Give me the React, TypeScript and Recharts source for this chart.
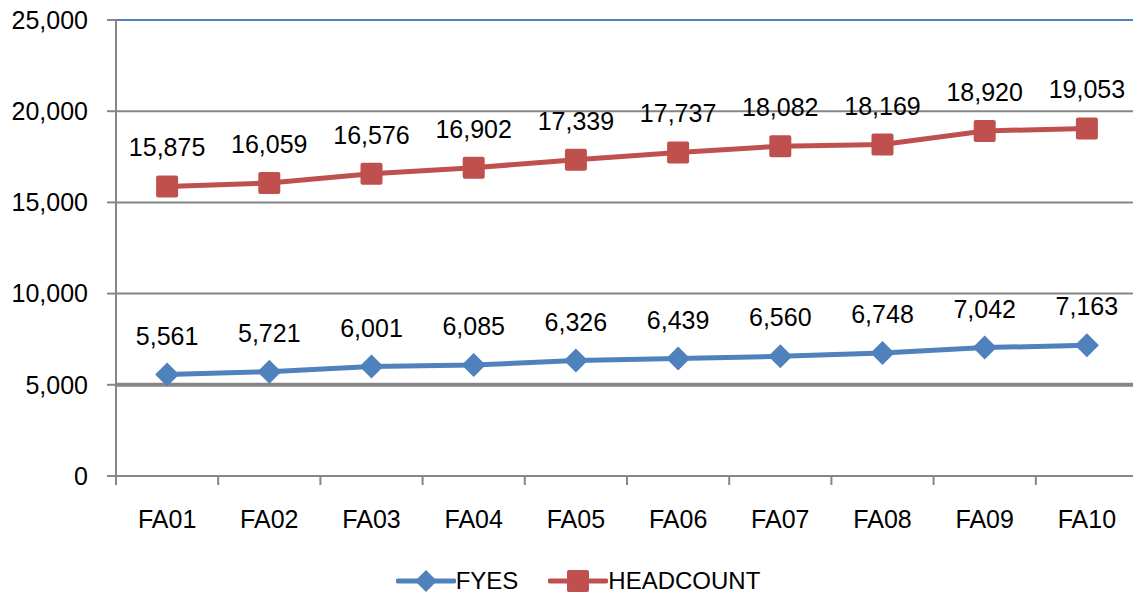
import { CartesianGrid, LabelList, Legend, Line, LineChart, ReferenceLine, XAxis, YAxis } from "recharts";

const YEARS = ["FA01", "FA02", "FA03", "FA04", "FA05", "FA06", "FA07", "FA08", "FA09", "FA10"];
const FYES = [5561, 5721, 6001, 6085, 6326, 6439, 6560, 6748, 7042, 7163];
const HEADCOUNT = [15875, 16059, 16576, 16902, 17339, 17737, 18082, 18169, 18920, 19053];
const Y_TICKS = [0, 5000, 10000, 15000, 20000, 25000];

const BLUE = "#4F81BD";
const RED = "#C0504D";
const GRAY = "#868686";
const FONT = "'Liberation Sans', Arial, sans-serif";

const CHART_W = 1133;
const AXIS_W = 116;
const RIGHT = -5;
const BAND = (CHART_W - AXIS_W - RIGHT) / YEARS.length;

const data = YEARS.map((year, i) => ({ year, fyes: FYES[i], headcount: HEADCOUNT[i] }));

const fmt = (v: number) => v.toLocaleString("en-US");

function Diamond({ cx, cy }: { cx?: number; cy?: number }) {
  if (cx == null || cy == null) return null;
  const r = 12;
  return <path d={`M${cx},${cy - r}L${cx + r},${cy}L${cx},${cy + r}L${cx - r},${cy}Z`} fill={BLUE} />;
}

function Square({ cx, cy }: { cx?: number; cy?: number }) {
  if (cx == null || cy == null) return null;
  const r = 11;
  return <rect x={cx - r} y={cy - r} width={r * 2} height={r * 2} rx={2} fill={RED} />;
}

// category label plus the between-category tick marks Excel draws
function YearTick(props: any) {
  const { x, y, payload, index } = props;
  const left = x - BAND / 2;
  return (
    <g>
      <line x1={left} x2={left} y1={y} y2={y + 9} stroke={GRAY} strokeWidth={2} />
      {index === YEARS.length - 1 && (
        <line x1={left + BAND} x2={left + BAND} y1={y} y2={y + 9} stroke={GRAY} strokeWidth={2} />
      )}
      <text x={x} y={y + 52} textAnchor="middle" fontSize={25} fontFamily={FONT} fill="#000">
        {payload.value}
      </text>
    </g>
  );
}

function LegendContent() {
  const item = (label: string, color: string, marker: "d" | "s") => (
    <span style={{ display: "inline-flex", alignItems: "center", margin: "0 15px" }}>
      <svg width={60} height={26}>
        <line x1={2} y1={13} x2={58} y2={13} stroke={color} strokeWidth={5} strokeLinecap="round" />
        {marker === "d" ? (
          <path d="M30,2L41,13L30,24L19,13Z" fill={color} />
        ) : (
          <rect x={19} y={2} width={22} height={22} rx={2} fill={color} />
        )}
      </svg>
      <span style={{ fontSize: 24, fontFamily: FONT, color: "#000", marginLeft: 0 }}>{label}</span>
    </span>
  );
  return (
    <div style={{ display: "flex", justifyContent: "center", paddingLeft: 18 }}>
      {item("FYES", BLUE, "d")}
      {item("HEADCOUNT", RED, "s")}
    </div>
  );
}

const labelStyle = { fontSize: 25, fontFamily: FONT, fill: "#000" };

export default function App() {
  return (
    <div style={{ position: "absolute", left: 0, top: 0, background: "#fff", width: CHART_W, height: 607, overflow: "hidden" }}>
      <LineChart width={CHART_W} height={607} data={data} margin={{ top: 20, right: RIGHT, bottom: 0, left: 0 }}>
        <CartesianGrid vertical={false} stroke={GRAY} strokeWidth={2} />
        <XAxis
          dataKey="year"
          scale="band"
          height={91}
          axisLine={{ stroke: GRAY, strokeWidth: 2 }}
          tickLine={false}
          tickSize={0}
          tickMargin={0}
          tick={<YearTick />}
          interval={0}
        />
        <YAxis
          width={AXIS_W}
          domain={[0, 25000]}
          ticks={Y_TICKS}
          tickFormatter={fmt}
          axisLine={{ stroke: GRAY, strokeWidth: 2 }}
          tickLine={{ stroke: GRAY, strokeWidth: 2 }}
          tickSize={9}
          tickMargin={19}
          tick={labelStyle}
        />
        <ReferenceLine y={5000} stroke={GRAY} strokeWidth={4} />
        <ReferenceLine y={25000} stroke={BLUE} strokeWidth={2} />
        <Legend verticalAlign="bottom" height={40} content={<LegendContent />} />
        <Line
          dataKey="fyes"
          name="FYES"
          stroke={BLUE}
          strokeWidth={5}
          dot={<Diamond />}
          activeDot={false}
          isAnimationActive={false}
        >
          <LabelList dataKey="fyes" position="top" offset={30} formatter={fmt} style={labelStyle} />
        </Line>
        <Line
          dataKey="headcount"
          name="HEADCOUNT"
          stroke={RED}
          strokeWidth={5}
          dot={<Square />}
          activeDot={false}
          isAnimationActive={false}
        >
          <LabelList dataKey="headcount" position="top" offset={30} formatter={fmt} style={labelStyle} />
        </Line>
      </LineChart>
    </div>
  );
}
